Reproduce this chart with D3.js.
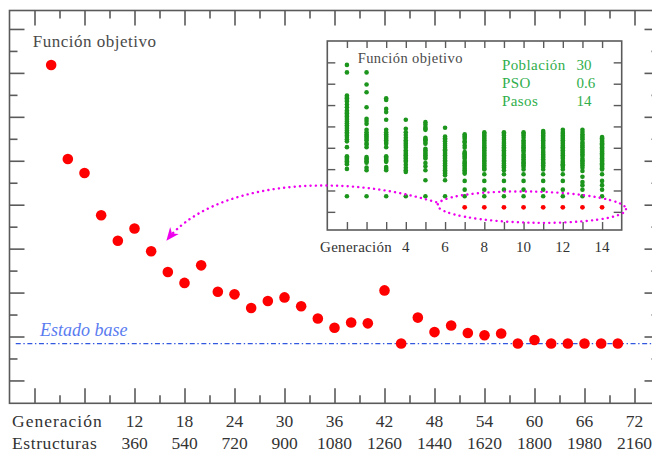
<!DOCTYPE html>
<html>
<head>
<meta charset="utf-8">
<script src="https://cdn.jsdelivr.net/npm/d3@7"></script>
<style>
  html, body { margin: 0; padding: 0; background: #fff; }
  svg { display: block; }
</style>
</head>
<body>
<svg id="chart" width="652" height="457"></svg>
<script>
// ---- main series: best objective value per generation ----
const generations = [2, 4, 6, 8, 10, 12, 14, 16, 18, 20, 22, 24, 26, 28, 30, 32, 34, 36,
                     38, 40, 42, 44, 46, 48, 50, 52, 54, 56, 58, 60, 62, 64, 66, 68, 70];
const objective = [7.18, 5.04, 4.72, 3.76, 3.18, 3.46, 2.94, 2.47, 2.22, 2.62, 2.02, 1.96,
                   1.65, 1.81, 1.89, 1.69, 1.41, 1.20, 1.32, 1.30, 2.05, 0.84, 1.43, 1.10,
                   1.25, 1.08, 1.03, 1.07, 0.84, 0.92, 0.84, 0.84, 0.84, 0.84, 0.84];
const baseLevel = 0.84;
const genTickLabels = [12, 18, 24, 30, 36, 42, 48, 54, 60, 66, 72];
const structureLabels = [360, 540, 720, 900, 1080, 1260, 1440, 1620, 1800, 1980, 2160];

// ---- inset: whole population per generation of one run ----
const insetGenerations = [1, 2, 3, 4, 5, 6, 7, 8, 9, 10, 11, 12, 13, 14];
const insetPopulation = [
  [6.88, 6.53, 5.45, 5.38, 5.32, 5.24, 5.17, 5.03, 4.90, 4.75, 4.68, 4.62, 4.54, 4.47, 4.39, 4.31, 4.23, 4.15, 4.06, 3.97, 3.89, 3.81, 3.73, 3.66, 3.58, 3.50, 3.40, 3.30, 3.03, 2.60, 2.54, 2.49, 2.43, 2.37, 2.30, 2.23, 2.01, 0.73],
  [6.53, 5.96, 5.60, 4.90, 4.36, 4.25, 4.12, 3.84, 3.73, 3.63, 3.55, 3.50, 3.42, 3.35, 3.22, 3.15, 3.03, 2.57, 2.50, 2.44, 2.37, 2.30, 2.07, 1.95, 0.73],
  [5.32, 5.24, 4.82, 4.67, 4.31, 3.84, 3.73, 3.63, 3.55, 3.50, 3.42, 3.35, 3.27, 3.19, 3.03, 2.60, 2.54, 2.48, 2.41, 2.34, 2.10, 2.02, 1.95, 0.73],
  [4.31, 3.89, 3.73, 3.60, 3.47, 3.35, 3.27, 3.19, 3.10, 3.00, 2.88, 2.80, 2.72, 2.65, 2.57, 2.50, 2.41, 2.34, 2.21, 2.07, 1.95, 1.87, 0.73],
  [4.20, 4.09, 3.97, 3.89, 3.84, 3.47, 3.40, 3.35, 3.27, 3.19, 2.95, 2.88, 2.80, 2.72, 2.65, 2.57, 2.50, 2.29, 2.13, 1.95, 1.48, 0.73],
  [3.94, 3.53, 3.45, 3.38, 3.30, 3.19, 3.10, 3.00, 2.92, 2.88, 2.80, 2.72, 2.65, 2.57, 2.49, 2.41, 2.34, 2.26, 2.18, 2.10, 2.02, 1.95, 1.87, 1.79, 1.71, 1.48, 0.73],
  [3.63, 3.55, 3.50, 3.42, 3.31, 3.25, 3.11, 3.00, 2.80, 2.74, 2.69, 2.62, 2.57, 2.50, 2.38, 2.30, 2.26, 2.18, 2.10, 2.02, 1.95, 1.87, 1.79, 1.45, 1.04, 0.73],
  [3.73, 3.66, 3.58, 3.50, 3.42, 3.35, 3.27, 3.19, 3.11, 3.03, 2.96, 2.88, 2.80, 2.72, 2.65, 2.57, 2.49, 2.41, 2.34, 2.26, 2.18, 2.10, 2.02, 1.98, 1.76, 1.45, 1.04, 0.73],
  [3.73, 3.66, 3.58, 3.47, 3.38, 3.27, 3.19, 3.11, 3.03, 2.96, 2.88, 2.80, 2.72, 2.65, 2.57, 2.49, 2.41, 2.34, 2.26, 2.18, 2.10, 2.07, 1.95, 1.76, 1.45, 1.04, 0.73],
  [3.73, 3.66, 3.58, 3.47, 3.35, 3.27, 3.19, 3.11, 3.03, 2.96, 2.88, 2.80, 2.69, 2.61, 2.54, 2.46, 2.38, 2.30, 2.26, 2.18, 2.10, 1.98, 1.76, 1.45, 1.04, 0.73],
  [3.78, 3.70, 3.66, 3.58, 3.50, 3.42, 3.35, 3.27, 3.19, 3.11, 3.03, 2.96, 2.85, 2.77, 2.69, 2.61, 2.54, 2.46, 2.38, 2.30, 2.26, 2.18, 2.10, 1.98, 1.76, 1.45, 1.04, 0.73],
  [3.84, 3.74, 3.66, 3.58, 3.50, 3.42, 3.35, 3.27, 3.19, 3.11, 3.03, 2.96, 2.88, 2.80, 2.72, 2.65, 2.57, 2.49, 2.38, 2.30, 2.23, 2.18, 2.10, 1.98, 1.76, 1.45, 1.04, 0.73],
  [3.84, 3.74, 3.63, 3.55, 3.47, 3.40, 3.27, 3.19, 3.11, 3.03, 2.92, 2.85, 2.77, 2.69, 2.61, 2.49, 2.41, 2.34, 2.26, 2.18, 2.07, 1.91, 1.64, 1.40, 1.25, 1.04, 0.73],
  [3.50, 3.45, 3.38, 3.32, 3.27, 3.21, 3.16, 3.09, 3.03, 2.97, 2.91, 2.85, 2.80, 2.74, 2.69, 2.63, 2.57, 2.51, 2.44, 2.39, 2.34, 2.28, 2.23, 2.16, 2.10, 2.04, 1.98, 1.76, 1.45, 1.25, 1.04, 0.73]
];
const insetBestGenerations = [7, 8, 9, 10, 11, 12, 13, 14];
const insetBest = [0.21, 0.21, 0.21, 0.21, 0.21, 0.21, 0.21, 0.21];
const insetTickLabels = [4, 6, 8, 10, 12, 14];
const insetParamNames = ["Población", "PSO", "Pasos"];
const insetParamValues = ["30", "0.6", "14"];

// ---- styles ----
const serif = '"Liberation Serif", "Times New Roman", "DejaVu Serif"';
const frameColor = "#5a5a5a";
const textColor = "#4a4a4a";
const red = "#ff0000";
const green = "#1c951c";
const paramGreen = "#2fae4b";
const blueLine = "#3358e0";
const blueText = "#5a7cf0";
const magenta = "#ee00ee";

const svg = d3.select("#chart");

// ---- main scales ----
const x = d3.scaleLinear().domain([-3, 75]).range([9.5, 659.5]);
const y = d3.scaleLinear().domain([-0.52, 8.42]).range([403.3, 10.5]);

const main = svg.append("g");

// frame
main.append("rect")
  .attr("x", x(-3)).attr("y", y(8.42))
  .attr("width", x(75) - x(-3)).attr("height", y(-0.52) - y(8.42))
  .attr("fill", "none").attr("stroke", frameColor).attr("stroke-width", 1.6);

function styleAxis(g, color, width) {
  g.select(".domain").remove();
  g.selectAll(".tick line").attr("stroke", color).attr("stroke-width", width);
  g.selectAll(".tick text").remove();
}

const majorX = d3.range(0, 75, 6);
const minorX = d3.range(3, 75, 6);
const majorY = d3.range(0, 9, 1);
const minorY = d3.range(0.5, 8, 1);

[[majorX, 15], [minorX, 8]].forEach(([vals, len]) => {
  main.append("g").attr("transform", `translate(0,${y(-0.52)})`)
    .call(d3.axisBottom(x).tickValues(vals).tickSize(-len))
    .call(g => styleAxis(g, frameColor, 1.6));
  main.append("g").attr("transform", `translate(0,${y(8.42)})`)
    .call(d3.axisTop(x).tickValues(vals).tickSize(-len))
    .call(g => styleAxis(g, frameColor, 1.6));
});
[[majorY, 15], [minorY, 8]].forEach(([vals, len]) => {
  main.append("g").attr("transform", `translate(${x(-3)},0)`)
    .call(d3.axisLeft(y).tickValues(vals).tickSize(-len))
    .call(g => styleAxis(g, frameColor, 1.6));
  main.append("g").attr("transform", `translate(${x(75)},0)`)
    .call(d3.axisRight(y).tickValues(vals).tickSize(-len))
    .call(g => styleAxis(g, frameColor, 1.6));
});

// base level reference line
main.append("line")
  .attr("x1", x(-2.25)).attr("x2", x(75))
  .attr("y1", y(baseLevel)).attr("y2", y(baseLevel))
  .attr("stroke", blueLine).attr("stroke-width", 1.3)
  .attr("stroke-dasharray", "5,2.6,1.4,2.6");

main.append("text")
  .attr("x", x(0.66)).attr("y", y(baseLevel) - 8)
  .attr("fill", blueText).attr("font-size", 18).attr("font-style", "italic")
  .style("font-family", serif)
  .text("Estado base");

main.append("text")
  .attr("x", x(-0.2)).attr("y", y(8.42) + 36)
  .attr("fill", textColor).attr("font-size", 17).attr("letter-spacing", 0.5)
  .style("font-family", serif)
  .text("Función objetivo");

// bottom labels
const labelRows = main.append("g").attr("fill", "#333").attr("font-size", 17.5)
  .style("font-family", serif);
labelRows.append("text").attr("x", 12).attr("y", 427).attr("letter-spacing", 1).text("Generación");
labelRows.append("text").attr("x", 12).attr("y", 449).attr("letter-spacing", 0.6).text("Estructuras");
labelRows.selectAll(".gl").data(genTickLabels).join("text")
  .attr("x", d => x(d)).attr("y", 427).attr("text-anchor", "middle").text(d => d);
labelRows.selectAll(".sl").data(structureLabels).join("text")
  .attr("x", (d, i) => x(genTickLabels[i])).attr("y", 449).attr("text-anchor", "middle").text(d => d);

// main points
main.append("g").selectAll("circle")
  .data(generations.map((g, i) => [g, objective[i]]))
  .join("circle")
  .attr("cx", d => x(d[0])).attr("cy", d => y(d[1])).attr("r", 5.3)
  .attr("fill", red);

// ---- inset ----
const ix = d3.scaleLinear().domain([0, 15]).range([327.3, 621.7]);
const iy = d3.scaleLinear().domain([-0.85, 8]).range([230, 41]);

const inset = svg.append("g");
inset.append("rect")
  .attr("x", ix(0)).attr("y", iy(8))
  .attr("width", ix(15) - ix(0)).attr("height", iy(-0.85) - iy(8))
  .attr("fill", "#fff").attr("stroke", frameColor).attr("stroke-width", 1.6);

const insetXT = d3.range(1, 15);
const insetYT = d3.range(0, 8);
inset.append("g").attr("transform", `translate(0,${iy(-0.85)})`)
  .call(d3.axisBottom(ix).tickValues(insetXT).tickSize(-8))
  .call(g => styleAxis(g, frameColor, 1.4));
inset.append("g").attr("transform", `translate(0,${iy(8)})`)
  .call(d3.axisTop(ix).tickValues(insetXT).tickSize(-7))
  .call(g => styleAxis(g, frameColor, 1.4));
inset.append("g").attr("transform", `translate(${ix(0)},0)`)
  .call(d3.axisLeft(iy).tickValues(insetYT).tickSize(-8))
  .call(g => styleAxis(g, frameColor, 1.4));
inset.append("g").attr("transform", `translate(${ix(15)},0)`)
  .call(d3.axisRight(iy).tickValues(insetYT).tickSize(-8))
  .call(g => styleAxis(g, frameColor, 1.4));

inset.append("text")
  .attr("x", ix(1.55)).attr("y", iy(8) + 21.5)
  .attr("fill", textColor).attr("font-size", 14.5).attr("letter-spacing", 0.4)
  .style("font-family", serif)
  .text("Función objetivo");

const params = inset.append("g").attr("fill", paramGreen).attr("font-size", 15)
  .style("font-family", serif);
params.selectAll(".pn").data(insetParamNames).join("text")
  .attr("x", ix(8.9)).attr("y", (d, i) => iy(8) + 28.5 + i * 18)
  .attr("letter-spacing", 0.4).text(d => d);
params.selectAll(".pv").data(insetParamValues).join("text")
  .attr("x", ix(12.7)).attr("y", (d, i) => iy(8) + 28.5 + i * 18).text(d => d);

// population clouds
const popPoints = [];
insetPopulation.forEach((col, i) => col.forEach(v => popPoints.push([insetGenerations[i], v])));
inset.append("g").selectAll("circle").data(popPoints).join("circle")
  .attr("cx", d => ix(d[0])).attr("cy", d => iy(d[1])).attr("r", 2.3)
  .attr("fill", green);

inset.append("g").selectAll("circle").data(insetBestGenerations.map((g, i) => [g, insetBest[i]]))
  .join("circle")
  .attr("cx", d => ix(d[0])).attr("cy", d => iy(d[1])).attr("r", 2.4)
  .attr("fill", red);

// inset x labels
const insetLabels = inset.append("g").attr("fill", "#333").attr("font-size", 15)
  .style("font-family", serif);
insetLabels.append("text").attr("x", 320).attr("y", 251.5).attr("letter-spacing", 0.3).text("Generación");
insetLabels.selectAll(".il").data(insetTickLabels).join("text")
  .attr("x", d => ix(d)).attr("y", 251.5).attr("text-anchor", "middle").text(d => d);

// ---- annotation: ellipse around best inset values, arrow to main curve ----
const defs = svg.append("defs");
defs.append("marker")
  .attr("id", "arrowhead").attr("viewBox", "0 -6 14 12")
  .attr("refX", 12).attr("refY", 0)
  .attr("markerWidth", 14).attr("markerHeight", 12)
  .attr("markerUnits", "userSpaceOnUse")
  .attr("orient", "auto")
  .append("path").attr("d", "M0,-5.5 L13,0 L0,5.5 L4,0 Z").attr("fill", magenta);

const annot = svg.append("g");
annot.append("ellipse")
  .attr("cx", ix(10.42)).attr("cy", iy(0.22))
  .attr("rx", ix(4.8) - ix(0)).attr("ry", iy(-0.73) - iy(0))
  .attr("fill", "none").attr("stroke", magenta).attr("stroke-width", 2.4)
  .attr("stroke-linecap", "round").attr("stroke-dasharray", "0.1,5.2")
  .attr("transform", `rotate(1.2, ${ix(10.42)}, ${iy(0.22)})`);

const p0 = [ix(5.55), iy(0.45)];
const c1 = [x(35.5), y(4.79)];
const c2 = [x(21.1), y(4.44)];
const p1 = [x(15.9), y(3.2)];
const arrowPath = d3.path();
arrowPath.moveTo(p0[0], p0[1]);
arrowPath.bezierCurveTo(c1[0], c1[1], c2[0], c2[1], p1[0], p1[1]);
annot.append("path")
  .attr("d", arrowPath.toString())
  .attr("fill", "none").attr("stroke", magenta).attr("stroke-width", 2.4)
  .attr("stroke-linecap", "round").attr("stroke-dasharray", "0.1,5.2")
  .attr("marker-end", "url(#arrowhead)");
</script>
</body>
</html>
